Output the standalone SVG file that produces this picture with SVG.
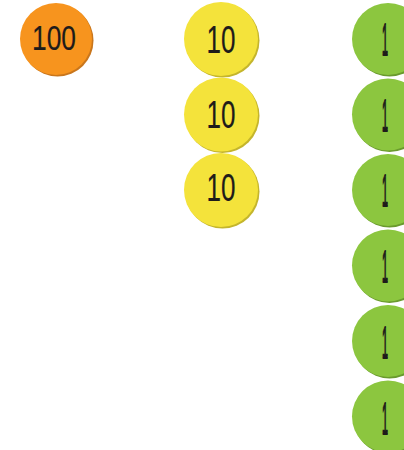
<svg xmlns="http://www.w3.org/2000/svg" width="404" height="450" viewBox="0 0 404 450">
<style>
.o{fill:#F7941E}.os{fill:#C9761C}
.y{fill:#F4E33B}.ys{fill:#C4B52C}
.g{fill:#8CC63F}.gs{fill:#6A9A2E}
.t{font-family:"Liberation Sans",Arial,sans-serif;fill:#1E1B1A;stroke:#1E1B1A;text-anchor:middle}
.t100{font-size:35px;stroke-width:0.2}
.t10{font-size:39px;stroke-width:0.2}
.t1{font-size:45px;stroke-width:1.8}
</style>
<rect width="404" height="450" fill="#FFFFFF"/>
<g id="coin-100">
<circle class="os" cx="57.5" cy="40.5" r="36"/>
<circle class="o" cx="56" cy="39" r="36"/>
<text class="t t100" x="54" y="50" textLength="44" lengthAdjust="spacingAndGlyphs">100</text>
</g>
<g id="coin-10-a">
<circle class="ys" cx="222.5" cy="40.5" r="37"/>
<circle class="y" cx="221" cy="39" r="37"/>
<text class="t t10" x="221" y="52.5" textLength="29" lengthAdjust="spacingAndGlyphs">10</text>
</g>
<g id="coin-10-b">
<circle class="ys" cx="222.5" cy="116" r="37"/>
<circle class="y" cx="221" cy="114.5" r="37"/>
<text class="t t10" x="221" y="128" textLength="29" lengthAdjust="spacingAndGlyphs">10</text>
</g>
<g id="coin-10-c">
<circle class="ys" cx="222.5" cy="191.5" r="37"/>
<circle class="y" cx="221" cy="190" r="37"/>
<text class="t t10" x="221" y="201" textLength="29" lengthAdjust="spacingAndGlyphs">10</text>
</g>
<g id="coin-1-a">
<circle class="gs" cx="389.5" cy="40.5" r="36"/>
<circle class="g" cx="388" cy="39" r="36"/>
<text class="t t1" x="385" y="55" textLength="6" lengthAdjust="spacingAndGlyphs">1</text>
</g>
<g id="coin-1-b">
<circle class="gs" cx="389.5" cy="116" r="36"/>
<circle class="g" cx="388" cy="114.5" r="36"/>
<text class="t t1" x="385" y="130.5" textLength="6" lengthAdjust="spacingAndGlyphs">1</text>
</g>
<g id="coin-1-c">
<circle class="gs" cx="389.5" cy="191.5" r="36"/>
<circle class="g" cx="388" cy="190" r="36"/>
<text class="t t1" x="385" y="206" textLength="6" lengthAdjust="spacingAndGlyphs">1</text>
</g>
<g id="coin-1-d">
<circle class="gs" cx="389.5" cy="267" r="36"/>
<circle class="g" cx="388" cy="265.5" r="36"/>
<text class="t t1" x="385" y="282" textLength="6" lengthAdjust="spacingAndGlyphs">1</text>
</g>
<g id="coin-1-e">
<circle class="gs" cx="389.5" cy="342.5" r="36"/>
<circle class="g" cx="388" cy="341" r="36"/>
<text class="t t1" x="385" y="357.5" textLength="6" lengthAdjust="spacingAndGlyphs">1</text>
</g>
<g id="coin-1-f">
<circle class="gs" cx="389.5" cy="418" r="36"/>
<circle class="g" cx="388" cy="416.5" r="36"/>
<text class="t t1" x="385" y="433.5" textLength="6" lengthAdjust="spacingAndGlyphs">1</text>
</g>
<g id="connectors"/>
</svg>
